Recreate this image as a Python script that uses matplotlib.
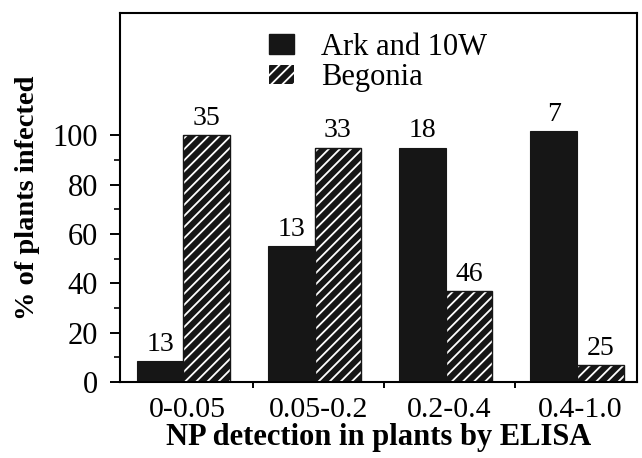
import matplotlib
matplotlib.use("Agg")
import matplotlib.pyplot as plt
from matplotlib.patches import Patch
import numpy as np

categories = ["0-0.05", "0.05-0.2", "0.2-0.4", "0.4-1.0"]
ark_values = [8.5, 55, 95, 101.5]
begonia_values = [100, 95, 37, 7]
ark_counts = ["13", "13", "18", "7"]
begonia_counts = ["35", "33", "46", "25"]
series_names = ["Ark and 10W", "Begonia"]

plt.rcParams['font.family'] = ['Liberation Serif', 'DejaVu Serif']
plt.rcParams['hatch.linewidth'] = 1.3

fig = plt.figure(figsize=(6.42, 4.58), dpi=100)
ax = fig.add_axes([120/642, (458-382)/458, (637-120)/642, (382-13)/458])

x = np.arange(len(categories))
w = 0.355
b1 = ax.bar(x - 0.205, ark_values, width=w, color='#161616', edgecolor='#161616', linewidth=0.8)
b2 = ax.bar(x + 0.15, begonia_values, width=w, color='#161616', edgecolor='white', hatch='///', linewidth=0)
ax.bar(x + 0.15, begonia_values, width=w, fill=False, edgecolor='#161616', linewidth=1.0)

ax.bar_label(b1, labels=ark_counts, padding=3, fontsize=20)
ax.bar_label(b2, labels=begonia_counts, padding=3, fontsize=20)

ax.set_xlim(-0.51, 3.43)
ax.set_ylim(0, 149.5)

ax.set_yticks(np.arange(0, 101, 20))
ax.set_yticks(np.arange(0, 101, 10), minor=True)
ax.tick_params(axis='y', which='major', length=7, width=1.4, labelsize=22, pad=9)
ax.tick_params(axis='y', which='minor', length=4, width=1.2)

ax.set_xticks([0.5, 1.5, 2.5])
ax.set_xticklabels([])
ax.set_xticks(x, minor=True)
ax.set_xticklabels(categories, minor=True)
ax.tick_params(axis='x', which='major', length=4, width=1.4)
ax.tick_params(axis='x', which='minor', length=0, labelsize=21.5, pad=11)

for s in ax.spines.values():
    s.set_linewidth(1.5)

ax.set_xlabel("NP detection in plants by ELISA", fontsize=22, fontweight='bold', labelpad=0)
ax.set_ylabel("% of plants infected", fontsize=20.5, fontweight='bold', labelpad=9)

handles = [Patch(facecolor='#161616', edgecolor='#161616'),
           Patch(facecolor='#161616', edgecolor='white', hatch='///', linewidth=0)]
ax.legend(handles, series_names, loc='upper left', bbox_to_anchor=(0.265, 0.98),
          frameon=False, fontsize=22, handlelength=0.8, handleheight=0.6,
          handletextpad=0.9, labelspacing=0.05, borderaxespad=0)

fig.savefig("out.png", dpi=100)
